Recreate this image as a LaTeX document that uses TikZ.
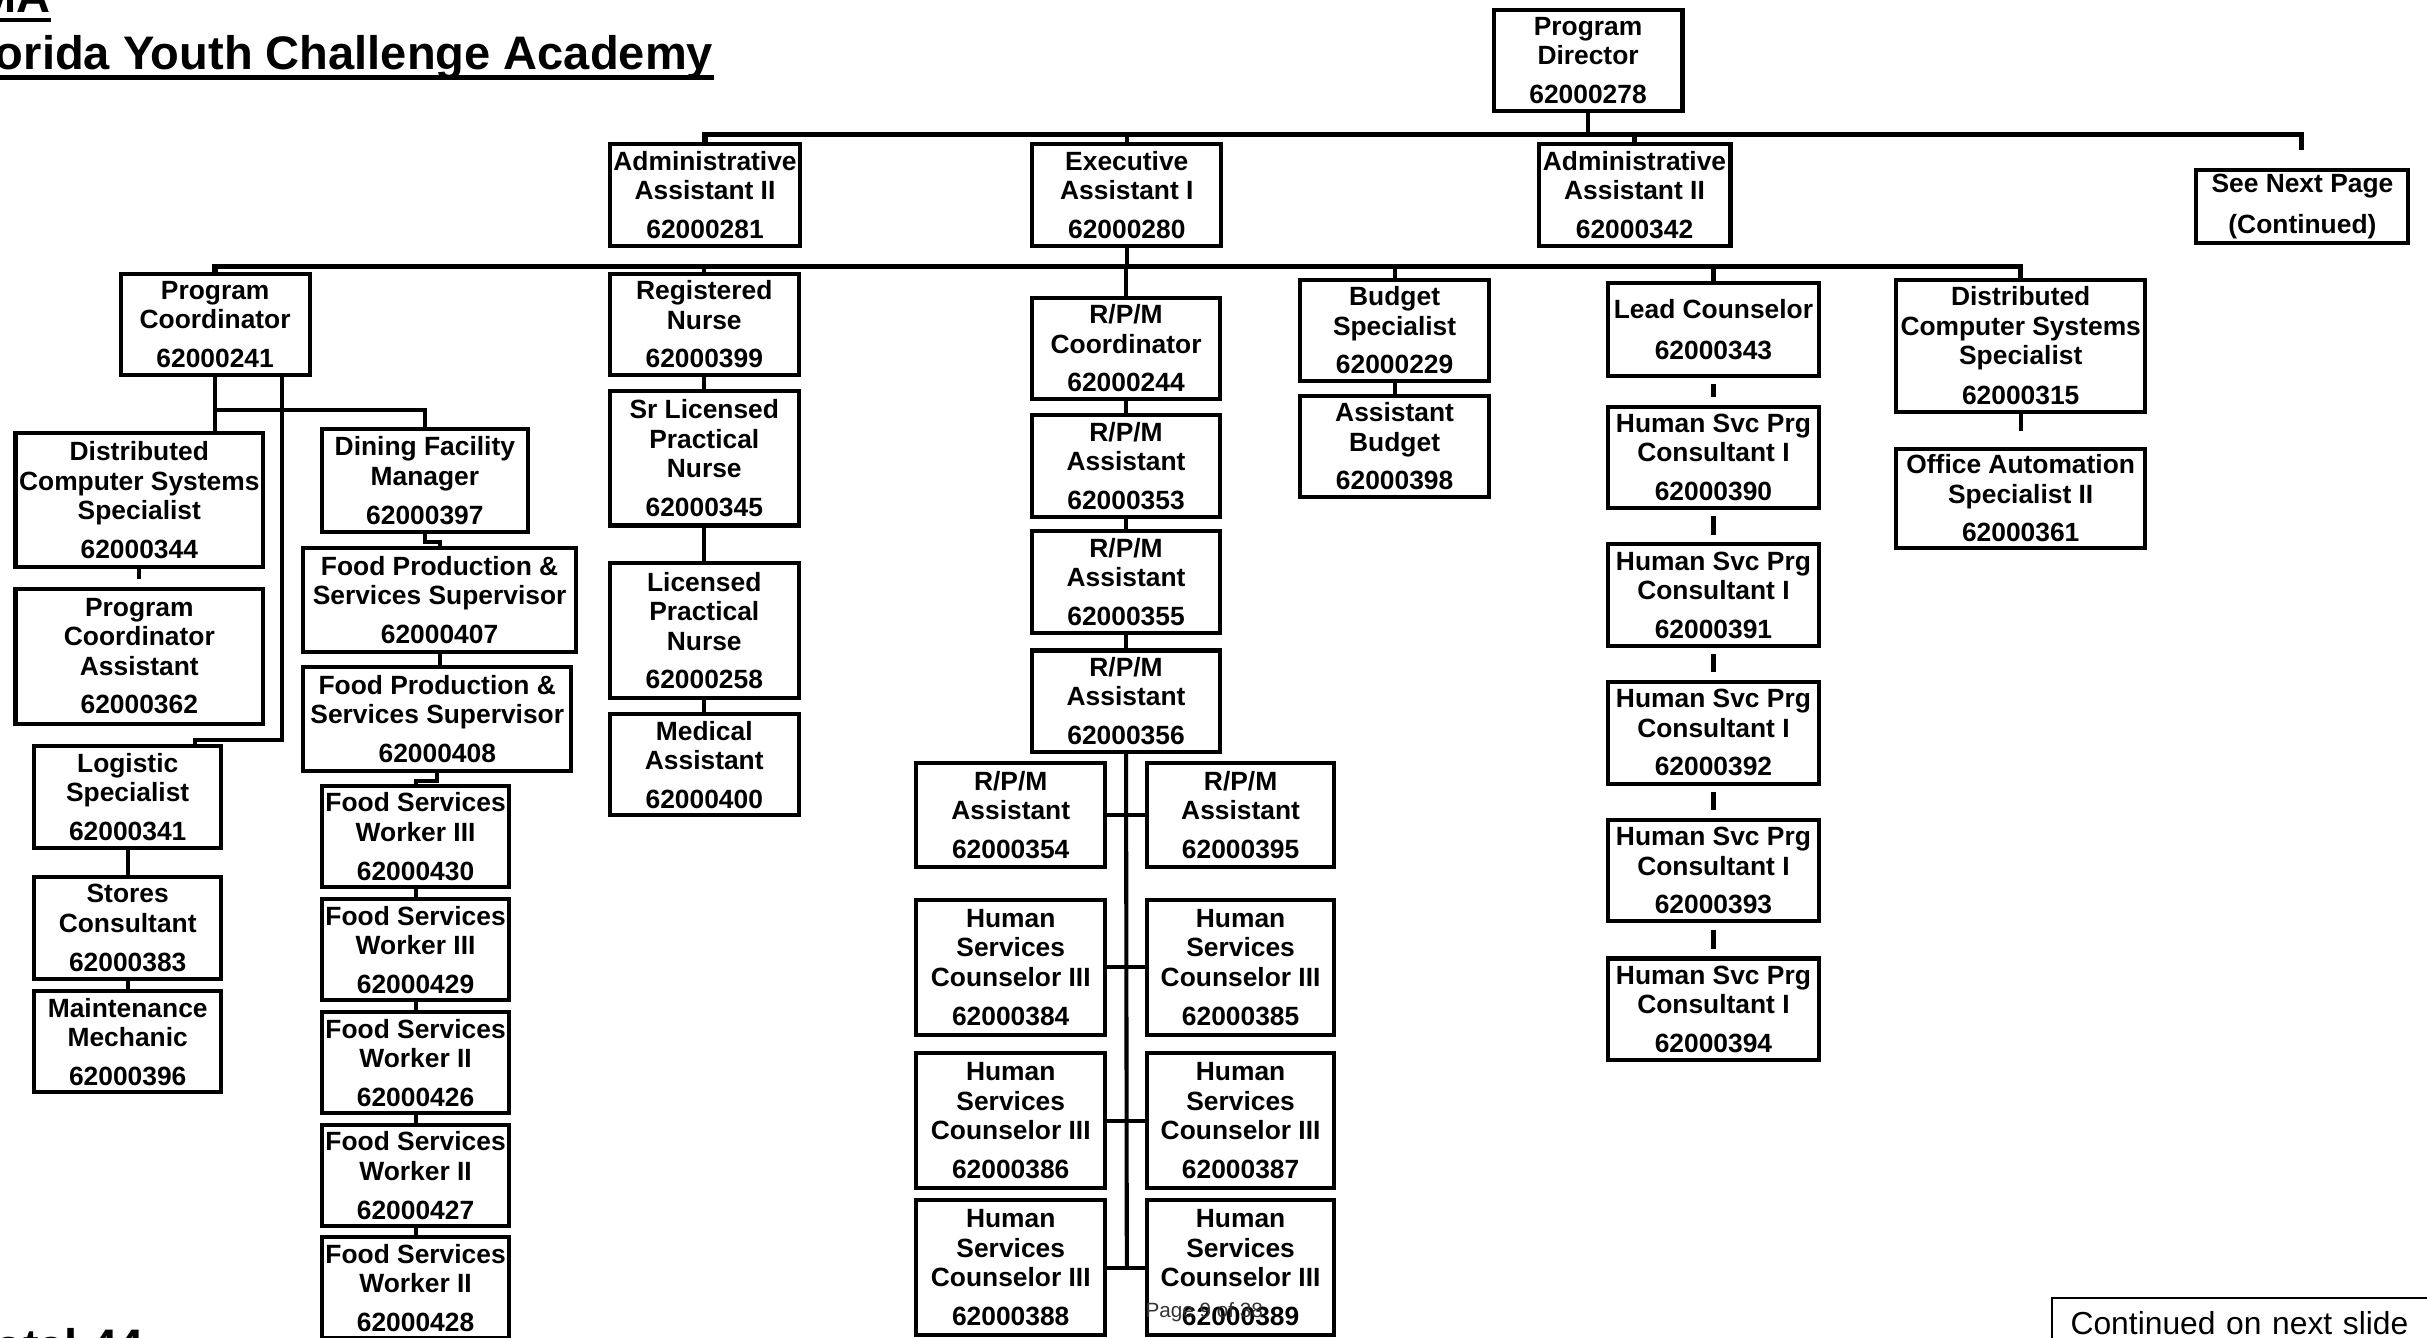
\documentclass[tikz,border=0pt]{standalone}
\usepackage{fontspec}
\setmainfont{Liberation Sans}
\begin{document}
\begin{tikzpicture}[x=0.02cm,y=-0.02cm,
post/.style ={rectangle, draw, line width=1.5pt, inner sep=0pt,
  align=center, font=\bfseries\fontsize{9.7}{10.8}\selectfont,
  minimum width=2.44cm, minimum height=1.31cm
},
tall/.style ={minimum height=1.74cm},
link/.style ={line width=1.5pt},
bus/.style ={line width=2pt},
gapline/.style ={line width=1.5pt, shorten <=0.08cm, shorten >=0.1cm},
headline/.style ={inner sep=0pt, font=\bfseries\fontsize{17.3}{20}\selectfont},
uline/.style ={line width=1.7pt},
contbox/.style ={rectangle, draw, line width=0.8pt, text width=6cm, align=left,
  inner xsep=0.24cm, inner ysep=0.17cm, font=\fontsize{11.7}{14}\selectfont}]
\useasboundingbox (0,0) rectangle (1568,864);
\clip (0,0) rectangle (1568,864);

% heading
\node (hda) at (33,8) [headline, anchor=base east] {MA};
\node (ttl) at (461,45) [headline, anchor=base east] {orida Youth Challenge Academy};
\draw[uline] ([yshift=-0.1cm]hda.base west) -- ([yshift=-0.1cm]hda.base east);
\draw[uline] ([yshift=-0.1cm]ttl.base west) -- ([yshift=-0.1cm]ttl.base east);
\node (tot) at (93,880) [headline, anchor=base east] {otal 44};

% top
\node (pd) at (1026,39) [post] {Program\\Director\\[0.12cm]62000278};
\node (aa1) at (455.5,126) [post, minimum width=2.46cm] {Administrative\\Assistant II\\[0.12cm]62000281};
\node (ea) at (728,126) [post] {Executive\\Assistant I\\[0.12cm]62000280};
\node (aa2) at (1056,126) [post, minimum width=2.48cm] {Administrative\\Assistant II\\[0.12cm]62000342};
\node (snp) at (1487.5,133.5) [post, minimum width=2.74cm, minimum height=0.94cm] {See Next Page\\[0.14cm](Continued)};

% second row
\node (pc) at (139,209.5) [post] {Program\\Coordinator\\[0.12cm]62000241};
\node (rn) at (455,209.5) [post] {Registered\\Nurse\\[0.12cm]62000399};
\node (rpmc) at (727.5,225) [post, minimum width=2.42cm] {R/P/M\\Coordinator\\[0.12cm]62000244};
\node (bs) at (901,213.5) [post] {Budget\\Specialist\\[0.12cm]62000229};
\node (lc) at (1107,213) [post, minimum width=2.72cm, minimum height=1.2cm] {Lead Counselor\\[0.14cm]62000343};
\node (dcs) at (1305.5,223.5) [post, minimum width=3.22cm, minimum height=1.7cm] {Distributed\\Computer Systems\\Specialist\\[0.14cm]62000315};

% program coordinator
\node (dcs2) at (90,323) [post, tall, minimum width=3.2cm] {Distributed\\Computer Systems\\Specialist\\[0.12cm]62000344};
\node (pca) at (90,424) [post, tall, minimum width=3.2cm] {Program\\Coordinator\\Assistant\\[0.12cm]62000362};
\node (ls) at (82.5,515) [post, minimum width=2.42cm] {Logistic\\Specialist\\[0.12cm]62000341};
\node (sc) at (82.5,599.5) [post, minimum width=2.42cm] {Stores\\Consultant\\[0.12cm]62000383};
\node (mm) at (82.5,673) [post, minimum width=2.42cm] {Maintenance\\Mechanic\\[0.12cm]62000396};

% dining
\node (dfm) at (274.5,310.5) [post, minimum width=2.66cm, minimum height=1.34cm] {Dining Facility\\Manager\\[0.12cm]62000397};
\node (fps1) at (284,387.5) [post, minimum width=3.52cm, minimum height=1.34cm] {Food Production \&\\Services Supervisor\\[0.12cm]62000407};
\node (fps2) at (282.5,464.5) [post, minimum width=3.46cm, minimum height=1.34cm] {Food Production \&\\Services Supervisor\\[0.12cm]62000408};
\node (fsw1) at (268.5,540.5) [post, minimum width=2.42cm] {Food Services\\Worker III\\[0.12cm]62000430};
\node (fsw2) at (268.5,613.5) [post, minimum width=2.42cm] {Food Services\\Worker III\\[0.12cm]62000429};
\node (fsw3) at (268.5,686.5) [post, minimum width=2.42cm] {Food Services\\Worker II\\[0.12cm]62000426};
\node (fsw4) at (268.5,759.5) [post, minimum width=2.42cm] {Food Services\\Worker II\\[0.12cm]62000427};
\node (fsw5) at (268.5,832) [post, minimum width=2.42cm] {Food Services\\Worker II\\[0.12cm]62000428};

% nurses
\node (srn) at (455,296) [post, tall] {Sr Licensed\\Practical\\Nurse\\[0.12cm]62000345};
\node (lpn) at (455,407.5) [post, tall] {Licensed\\Practical\\Nurse\\[0.12cm]62000258};
\node (ma) at (455,494) [post] {Medical\\Assistant\\[0.12cm]62000400};

% r/p/m
\node (rpma1) at (727.5,301) [post, minimum width=2.42cm] {R/P/M\\Assistant\\[0.12cm]62000353};
\node (rpma2) at (727.5,376) [post, minimum width=2.42cm] {R/P/M\\Assistant\\[0.12cm]62000355};
\node (rpma3) at (727.5,453) [post, minimum width=2.42cm] {R/P/M\\Assistant\\[0.12cm]62000356};
\node (rpml) at (653,526.5) [post, minimum height=1.34cm] {R/P/M\\Assistant\\[0.12cm]62000354};
\node (rpmr) at (801.5,526.5) [post, minimum width=2.42cm, minimum height=1.34cm] {R/P/M\\Assistant\\[0.12cm]62000395};
\node (hsc1) at (653,625) [post, tall] {Human\\Services\\Counselor III\\[0.12cm]62000384};
\node (hsc2) at (801.5,625) [post, tall, minimum width=2.42cm] {Human\\Services\\Counselor III\\[0.12cm]62000385};
\node (hsc3) at (653,724) [post, tall] {Human\\Services\\Counselor III\\[0.12cm]62000386};
\node (hsc4) at (801.5,724) [post, tall, minimum width=2.42cm] {Human\\Services\\Counselor III\\[0.12cm]62000387};
\node (hsc5) at (653,819) [post, tall] {Human\\Services\\Counselor III\\[0.12cm]62000388};
\node (hsc6) at (801.5,819) [post, tall, minimum width=2.42cm] {Human\\Services\\Counselor III\\[0.12cm]62000389};

% budget, counselors, computers
\node (ab) at (901,288.5) [post] {Assistant\\Budget\\[0.12cm]62000398};
\node (hsp1) at (1107,295.5) [post, minimum width=2.72cm] {Human Svc Prg\\Consultant I\\[0.12cm]62000390};
\node (hsp2) at (1107,384.5) [post, minimum width=2.72cm] {Human Svc Prg\\Consultant I\\[0.12cm]62000391};
\node (hsp3) at (1107,473.5) [post, minimum width=2.72cm] {Human Svc Prg\\Consultant I\\[0.12cm]62000392};
\node (hsp4) at (1107,562.5) [post, minimum width=2.72cm] {Human Svc Prg\\Consultant I\\[0.12cm]62000393};
\node (hsp5) at (1107,652) [post, minimum width=2.72cm] {Human Svc Prg\\Consultant I\\[0.12cm]62000394};
\node (oas) at (1305.5,322) [post, minimum width=3.22cm, minimum height=1.28cm] {Office Automation\\Specialist II\\[0.12cm]62000361};

\node (pg) at (778,848) [font=\fontsize{7.6}{8}\selectfont, text=black!80, inner sep=0pt] {Page 9 of 38};
\node (cont) at (1325,838) [contbox, anchor=north west] {Continued on next slide};

% connectors
\coordinate (busA) at (1026,87);
\coordinate (snpt) at (1487,97);
\coordinate (busB) at (728,172);
\draw[link] (pd.south) -- (busA);
\draw[bus] (aa1.north) |- (busA) -| (snpt);
\draw[link] (ea.north) -- (ea.north |- busA);
\draw[link] (aa2.north) -- (aa2.north |- busA);
\draw[link] (ea.south) -- (busB);
\draw[bus] (pc.north) |- (busB) -| (dcs.north);
\draw[link] (rn.north) -- (rn.north |- busB);
\draw[link] (rpmc.north) -- (rpmc.north |- busB);
\draw[link] (bs.north) -- (bs.north |- busB);
\draw[link] (lc.north) -- (lc.north |- busB);

\coordinate (pcj) at (139,265);
\coordinate (pcl) at (182,478);
\draw[link] (pc.south) -- (pcj) -| (dfm.north);
\draw[link] (pcj) -- (pcj |- dcs2.north);
\draw[link] (pc.south -| pcl) -- (pcl) -| ([xshift=0.87cm]ls.north);
\draw[link] (dcs2.south) -- ++(0,6);
\draw[link] (ls.south) -- (sc.north);
\draw[link] (sc.south) -- (mm.north);

\draw[link] (dfm.south) -- ++(0,5) -| (fps1.north);
\draw[link] (fps1.south) -- (fps1.south |- fps2.north);
\draw[link] (fps2.south) -- ++(0,5) -| (fsw1.north);
\draw[link] (fsw1.south) -- (fsw2.north);
\draw[link] (fsw2.south) -- (fsw3.north);
\draw[link] (fsw3.south) -- (fsw4.north);
\draw[link] (fsw4.south) -- (fsw5.north);

\draw[link] (rn.south) -- (srn.north);
\draw[link] (srn.south) -- (lpn.north);
\draw[link] (lpn.south) -- (ma.north);

\coordinate (trk) at (728,819);
\draw[link] (rpmc.south) -- (rpma1.north);
\draw[link] (rpma1.south) -- (rpma2.north);
\draw[link] (rpma2.south) -- (rpma3.north);
\draw[link] (rpma3.south) -- (trk);
\draw[link] (rpml.east) -- (rpmr.west);
\draw[link] (hsc1.east) -- (hsc2.west);
\draw[link] (hsc3.east) -- (hsc4.west);
\draw[link] (hsc5.east) -- (hsc6.west);

\draw[link] (bs.south) -- (ab.north);
\draw[gapline] (lc.south) -- (hsp1.north);
\draw[gapline] (hsp1.south) -- (hsp2.north);
\draw[gapline] (hsp2.south) -- (hsp3.north);
\draw[gapline] (hsp3.south) -- (hsp4.north);
\draw[gapline] (hsp4.south) -- (hsp5.north);
\draw[link] (dcs.south) -- ++(0,11);
\end{tikzpicture}
\end{document}
